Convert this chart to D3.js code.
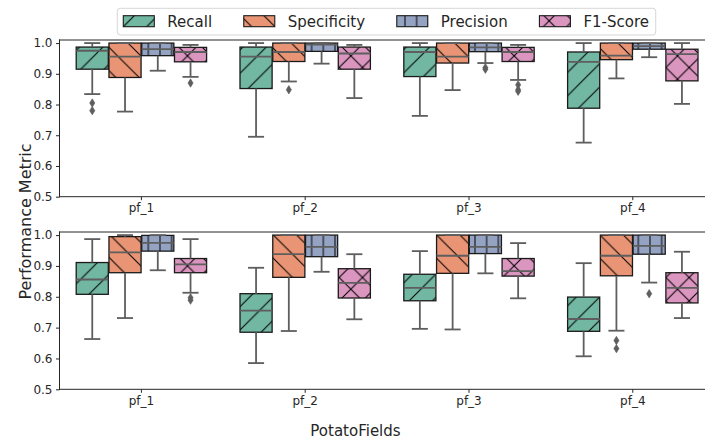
<!DOCTYPE html>
<html><head><meta charset="utf-8">
<script src="https://cdn.jsdelivr.net/npm/d3@7"></script>
<style>
body{margin:0;background:#fff}
svg{display:block}
text{font-family:"DejaVu Sans",sans-serif;fill:#262626}
</style>
</head><body>
<svg id="c" width="705" height="442"></svg>
<script>
// ---------- data ----------
const fields = ["pf_1","pf_2","pf_3","pf_4"];
const metrics = ["Recall","Specificity","Precision","F1-Score"];
const yTicks = [0.5,0.6,0.7,0.8,0.9,1.0];
// each row: [whiskerLow, q1, median, q3, whiskerHigh] per field
const topRecall = [[0.834,0.915,0.975,0.987,1.0],[0.695,0.852,0.956,0.987,1.0],[0.763,0.891,0.971,0.987,1.0],[0.676,0.788,0.939,0.971,1.0]];
const topSpec   = [[0.777,0.888,0.956,1.0,1.0],[0.875,0.94,0.971,1.0,1.0],[0.847,0.935,0.956,1.0,1.0],[0.885,0.946,0.959,1.0,1.0]];
const topPrec   = [[0.91,0.959,0.98,1.0,1.0],[0.933,0.973,0.995,1.0,1.0],[0.935,0.972,0.986,1.0,1.0],[0.954,0.98,0.99,1.0,1.0]];
const topF1     = [[0.89,0.939,0.971,0.986,0.994],[0.821,0.915,0.966,0.987,0.994],[0.88,0.94,0.971,0.986,0.994],[0.802,0.877,0.964,0.98,1.0]];
const topRecallOut = [[0.805,0.78],[],[],[]];
const topSpecOut   = [[],[0.848],[],[]];
const topPrecOut   = [[],[],[0.92,0.915],[]];
const topF1Out     = [[0.87],[],[0.864,0.848,0.843],[]];

const botRecall = [[0.663,0.808,0.856,0.911,0.987],[0.585,0.685,0.755,0.81,0.894],[0.696,0.787,0.829,0.873,0.948],[0.607,0.688,0.728,0.799,0.909]];
const botSpec   = [[0.731,0.878,0.944,0.995,1.0],[0.689,0.863,0.938,1.0,1.0],[0.694,0.876,0.933,1.0,1.0],[0.69,0.868,0.933,1.0,1.0]];
const botPrec   = [[0.886,0.948,0.975,0.999,1.0],[0.881,0.93,0.962,1.0,1.0],[0.876,0.94,0.962,1.0,1.0],[0.846,0.938,0.965,1.0,1.0]];
const botF1     = [[0.813,0.878,0.905,0.924,0.987],[0.727,0.796,0.845,0.891,0.938],[0.795,0.867,0.883,0.924,0.974],[0.731,0.78,0.829,0.878,0.946]];
const botRecallOut = [[],[],[],[]];
const botSpecOut   = [[],[],[],[0.658,0.632]];
const botPrecOut   = [[],[],[],[0.81]];
const botF1Out     = [[0.797,0.789],[],[],[]];

// ---------- styles / layout ----------
const colors = ["#71b7a1","#e99575","#95a3c3","#db96c0"];
const hatches = ["fwd","back","vert","cross"];
const lineGray = "#5e5e5e";
const spineCol = "#262626";
const axLeft = 59.5, axRight = 59.5 + 4*163.8;
const panels = [
  {top:40, bottom:196.7, stats:[topRecall,topSpec,topPrec,topF1], outs:[topRecallOut,topSpecOut,topPrecOut,topF1Out]},
  {top:232, bottom:389.3, stats:[botRecall,botSpec,botPrec,botF1], outs:[botRecallOut,botSpecOut,botPrecOut,botF1Out]}
];

const svg = d3.select("#c");
const defs = svg.append("defs");
const S = 11.667, D = 23.333;
function mkPattern(id, w, h, xoff, yoff, lines){
  const p = defs.append("pattern").attr("id",id).attr("patternUnits","userSpaceOnUse")
    .attr("width",w).attr("height",h).attr("x",xoff).attr("y",yoff);
  lines.forEach(l=>p.append("line").attr("x1",l[0]).attr("y1",l[1]).attr("x2",l[2]).attr("y2",l[3])
    .attr("stroke","#000").attr("stroke-width",1));
}
const fwd = [[0,D,D,0],[-2,2,2,-2],[D-2,D+2,D+2,D-2]];
const back = [[0,0,D,D],[-2,D-2,2,D+2],[D-2,-2,D+2,2]];
mkPattern("fwd", D, D, 0.83, 9.17, fwd);
mkPattern("back", D, D, 0.83, 9.17, back);
mkPattern("cross", D, D, 0.83, 9.17, fwd.concat(back));
mkPattern("vert", S, S, 2.47, 0, [[S/2,-1,S/2,S+1]]);

const x = d3.scaleBand().domain(fields).range([axLeft, axRight]).paddingInner(0).paddingOuter(0);
const diamond = "M0,-4.2L2.6,0L0,4.2L-2.6,0Z";

panels.forEach(p=>{
  const y = d3.scaleLinear().domain([0.5,1.01]).range([p.bottom,p.top]);
  const g = svg.append("g");
  const gw = x.bandwidth()*0.8, nw = gw/metrics.length, bw = nw*0.98;
  metrics.forEach((m,mi)=>{
    fields.forEach((f,fi)=>{
      const [lo,q1,med,q3,hi] = p.stats[mi][fi];
      const c = x(f) + x.bandwidth()/2 - gw/2 + nw*(mi+0.5);
      const bx = c - bw/2;
      g.append("rect").attr("x",bx).attr("y",y(q3)).attr("width",bw).attr("height",y(q1)-y(q3))
        .attr("fill",colors[mi]);
      g.append("rect").attr("x",bx).attr("y",y(q3)).attr("width",bw).attr("height",y(q1)-y(q3))
        .attr("fill","url(#"+hatches[mi]+")").attr("stroke","#1a1a1a").attr("stroke-width",1.3);
    });
  });
  metrics.forEach((m,mi)=>{
    fields.forEach((f,fi)=>{
      const [lo,q1,med,q3,hi] = p.stats[mi][fi];
      const c = x(f) + x.bandwidth()/2 - gw/2 + nw*(mi+0.5);
      const ln = (x1,y1,x2,y2)=>g.append("line").attr("x1",x1).attr("y1",y1).attr("x2",x2).attr("y2",y2)
        .attr("stroke",lineGray).attr("stroke-width",1.8);
      ln(c,y(q1),c,y(lo)); ln(c,y(q3),c,y(hi));
      ln(c-bw/4,y(lo),c+bw/4,y(lo)); ln(c-bw/4,y(hi),c+bw/4,y(hi));
      ln(c-bw/2,y(med),c+bw/2,y(med));
      p.outs[mi][fi].forEach(v=>{
        g.append("path").attr("d",diamond).attr("transform",`translate(${c},${y(v)})`)
          .attr("fill",lineGray).attr("stroke",lineGray).attr("stroke-width",0.6);
      });
    });
  });
  const ya = svg.append("g").attr("transform",`translate(${axLeft},0)`)
    .call(d3.axisLeft(y).tickValues(yTicks).tickFormat(d3.format(".1f")).tickSize(3.5).tickPadding(3.5));
  ya.select(".domain").remove();
  ya.selectAll("line").attr("stroke",spineCol);
  ya.selectAll("text").attr("font-size",12).attr("font-family","DejaVu Sans").attr("fill","#262626");
  const xa = svg.append("g").attr("transform",`translate(0,${p.bottom})`)
    .call(d3.axisBottom(x).tickSize(3.5).tickPadding(3.5));
  xa.select(".domain").remove();
  xa.selectAll("line").attr("stroke",spineCol);
  xa.selectAll("text").attr("font-size",12).attr("font-family","DejaVu Sans").attr("fill","#262626");
  const sp = (x1,y1,x2,y2)=>svg.append("line").attr("x1",x1).attr("y1",y1).attr("x2",x2).attr("y2",y2)
    .attr("stroke",spineCol).attr("stroke-width",1).attr("stroke-linecap","square");
  sp(axLeft,p.top,axRight,p.top);
  sp(axLeft,p.bottom,axRight,p.bottom);
  sp(axLeft,p.top,axLeft,p.bottom);
  sp(axRight,p.top,axRight,p.bottom);
});

svg.append("text").attr("x",355.5).attr("y",436).attr("text-anchor","middle")
  .attr("font-size",15).text("PotatoFields");
svg.append("text").attr("transform","translate(31,221.5) rotate(-90)").attr("text-anchor","middle")
  .attr("font-size",16).text("Performance Metric");

const lg = svg.append("g");
const frame = lg.append("rect").attr("x",117.3).attr("y",8.3).attr("height",26.7).attr("rx",3)
  .attr("fill","#fff").attr("fill-opacity",0.8).attr("stroke","#d6d6d6").attr("stroke-width",1);
let lx = 123.3;
metrics.forEach((m,mi)=>{
  lg.append("rect").attr("x",lx).attr("y",15.7).attr("width",31).attr("height",11).attr("fill",colors[mi]);
  lg.append("rect").attr("x",lx).attr("y",15.7).attr("width",31).attr("height",11)
    .attr("fill","url(#"+hatches[mi]+")").attr("stroke","#1a1a1a").attr("stroke-width",1.1);
  const t = lg.append("text").attr("x",lx+44).attr("y",26.5).attr("font-size",15).text(m);
  lx = lx + 44 + t.node().getComputedTextLength() + 31.7;
});
frame.attr("width", lx - 31.7 + 6.7 - 117.3);
</script>
</body></html>
